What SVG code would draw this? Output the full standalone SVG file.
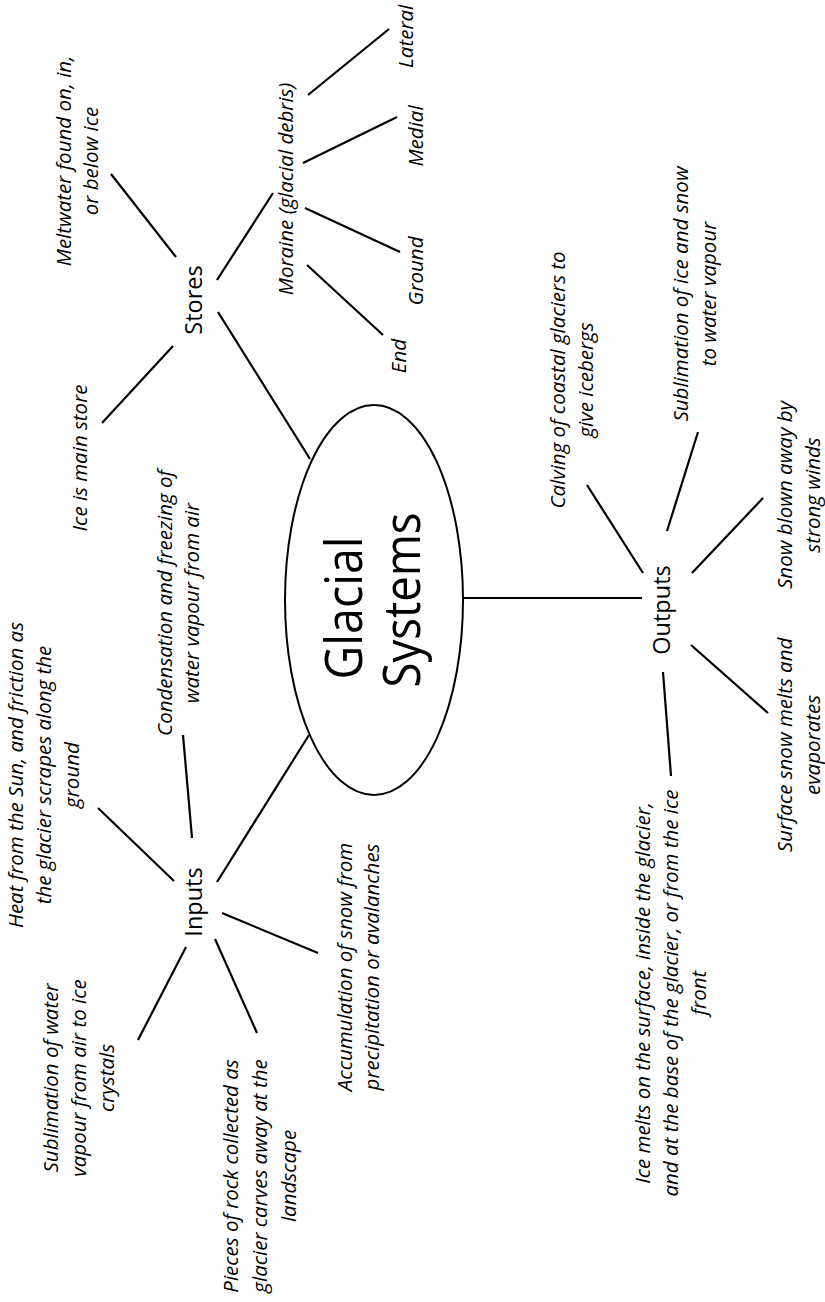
<svg xmlns="http://www.w3.org/2000/svg" width="825" height="1302" viewBox="0 0 825 1302">
<style>
.bg{fill:#ffffff}
.c{stroke:#000;stroke-width:2.2;fill:none;stroke-linecap:butt}
.ell{stroke:#000;stroke-width:2;fill:#fff}
text{font-family:"Open Sans","Noto Sans","DejaVu Sans",sans-serif;fill:#000;text-anchor:middle}
.lbl{font-size:20.5px;font-style:italic}
.ttl{font-size:23.5px}
.main{font-size:52px}
</style>
<rect class="bg" x="0" y="0" width="825" height="1302"/>
<g id="connectors">
<line class="c" x1="218" y1="312" x2="310" y2="459"/>
<line class="c" x1="217" y1="280" x2="273" y2="193"/>
<line class="c" x1="176" y1="257" x2="111" y2="174"/>
<line class="c" x1="173" y1="346" x2="102" y2="423"/>
<line class="c" x1="308" y1="95" x2="389" y2="29"/>
<line class="c" x1="303" y1="163" x2="397" y2="117"/>
<line class="c" x1="305" y1="208" x2="400" y2="252"/>
<line class="c" x1="307" y1="265" x2="383" y2="335"/>
<line class="c" x1="217" y1="882" x2="309" y2="735"/>
<line class="c" x1="192" y1="838" x2="183" y2="735"/>
<line class="c" x1="174" y1="881" x2="98" y2="808"/>
<line class="c" x1="222" y1="913" x2="318" y2="953"/>
<line class="c" x1="215" y1="939" x2="257" y2="1033"/>
<line class="c" x1="186" y1="947" x2="138" y2="1040"/>
<line class="c" x1="463" y1="598" x2="642" y2="598"/>
<line class="c" x1="643" y1="573" x2="587" y2="485"/>
<line class="c" x1="667" y1="531" x2="698" y2="432"/>
<line class="c" x1="692" y1="573" x2="763" y2="498"/>
<line class="c" x1="691" y1="645" x2="768" y2="713"/>
<line class="c" x1="663" y1="672" x2="671" y2="776"/>
</g>
<g id="glacial-systems">
<ellipse class="ell" cx="374" cy="600" rx="89" ry="195"/>
<text class="main" transform="translate(362,608) rotate(-90)" textLength="143" lengthAdjust="spacingAndGlyphs">Glacial</text>
<text class="main" transform="translate(420,600) rotate(-90)" textLength="175" lengthAdjust="spacingAndGlyphs">Systems</text>
</g>
<g id="stores"><text class="ttl" transform="translate(202,300) rotate(-90)">Stores</text></g>
<g id="inputs"><text class="ttl" transform="translate(202,902) rotate(-90)">Inputs</text></g>
<g id="outputs"><text class="ttl" transform="translate(670,610) rotate(-90)">Outputs</text></g>
<g id="moraine"><text class="lbl" transform="translate(293,189) rotate(-90)">Moraine (glacial debris)</text></g>
<g id="lateral"><text class="lbl" transform="translate(413,68) rotate(-90)" style="text-anchor:start">Lateral</text></g>
<g id="medial"><text class="lbl" transform="translate(423,136) rotate(-90)">Medial</text></g>
<g id="ground"><text class="lbl" transform="translate(423,271) rotate(-90)">Ground</text></g>
<g id="end"><text class="lbl" transform="translate(406,356) rotate(-90)">End</text></g>
<g id="meltwater"><text class="lbl" transform="translate(71,161) rotate(-90)"><tspan x="0" y="0">Meltwater found on, in,</tspan><tspan x="0" dy="27">or below ice</tspan></text></g>
<g id="ice-main-store"><text class="lbl" transform="translate(87,458) rotate(-90)">Ice is main store</text></g>
<g id="condensation"><text class="lbl" transform="translate(172,603) rotate(-90)"><tspan x="0" y="0">Condensation and freezing of</tspan><tspan x="0" dy="27">water vapour from air</tspan></text></g>
<g id="heat"><text class="lbl" transform="translate(23,775) rotate(-90)"><tspan x="0" y="0">Heat from the Sun, and friction as</tspan><tspan x="0" dy="28">the glacier scrapes along the</tspan><tspan x="0" dy="28">ground</tspan></text></g>
<g id="accumulation"><text class="lbl" transform="translate(352,967) rotate(-90)"><tspan x="0" y="0">Accumulation of snow from</tspan><tspan x="0" dy="27">precipitation or avalanches</tspan></text></g>
<g id="sublimation-water"><text class="lbl" transform="translate(58,1078) rotate(-90)"><tspan x="0" y="0">Sublimation of water</tspan><tspan x="0" dy="28">vapour from air to ice</tspan><tspan x="0" dy="28">crystals</tspan></text></g>
<g id="pieces"><text class="lbl" transform="translate(238,1176) rotate(-90)"><tspan x="0" y="0">Pieces of rock collected as</tspan><tspan x="0" dy="29">glacier carves away at the</tspan><tspan x="0" dy="29">landscape</tspan></text></g>
<g id="calving"><text class="lbl" transform="translate(565,380) rotate(-90)"><tspan x="0" y="0">Calving of coastal glaciers to</tspan><tspan x="0" dy="28">give icebergs</tspan></text></g>
<g id="sublimation-ice"><text class="lbl" transform="translate(688,294) rotate(-90)"><tspan x="0" y="0">Sublimation of ice and snow</tspan><tspan x="0" dy="28">to water vapour</tspan></text></g>
<g id="snow-blown"><text class="lbl" transform="translate(792,495) rotate(-90)"><tspan x="0" y="0">Snow blown away by</tspan><tspan x="0" dy="28">strong winds</tspan></text></g>
<g id="surface-snow"><text class="lbl" transform="translate(792,745) rotate(-90)"><tspan x="0" y="0">Surface snow melts and</tspan><tspan x="0" dy="28">evaporates</tspan></text></g>
<g id="ice-melts"><text class="lbl" transform="translate(650,993) rotate(-90)"><tspan x="0" y="0">Ice melts on the surface, inside the glacier,</tspan><tspan x="0" dy="28">and at the base of the glacier, or from the ice</tspan><tspan x="0" dy="28">front</tspan></text></g>
</svg>
